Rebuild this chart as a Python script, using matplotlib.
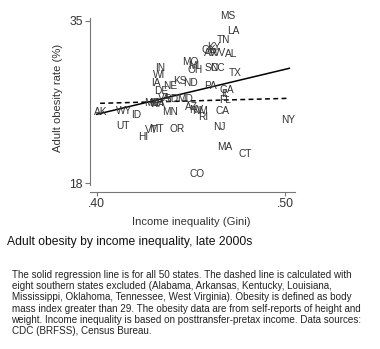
import matplotlib
matplotlib.use("Agg")
import matplotlib.pyplot as plt
import numpy as np

plt.rcParams['font.family'] = ['Liberation Sans', 'DejaVu Sans']

states = ["MS", "LA", "TN", "KY", "OK", "AR", "WV", "AL", "MO", "MI", "OH", "SC", "NC", "TX",
          "IN", "WI", "IA", "KS", "ND", "NE", "PA", "DE", "GA", "IL", "FL", "MD", "VA", "SD",
          "ME", "NH", "WA", "AK", "WY", "ID", "MN", "AZ", "NV", "NM", "RI", "CA", "UT", "HI",
          "VT", "MT", "OR", "NJ", "NY", "MA", "CT", "CO"]
gini = [0.4697, 0.4727, 0.4671, 0.4623, 0.4593, 0.4607, 0.4644, 0.4713, 0.4495, 0.4517,
        0.4522, 0.4612, 0.4639, 0.4734, 0.4336, 0.4332, 0.4315, 0.4440, 0.4499, 0.4389,
        0.4602, 0.4340, 0.4689, 0.4684, 0.4684, 0.4469, 0.4357, 0.4400, 0.4294, 0.4315,
        0.4326, 0.4021, 0.4147, 0.4209, 0.4389, 0.4505, 0.4527, 0.4549, 0.4566, 0.4669,
        0.4141, 0.4247, 0.4288, 0.4315, 0.4428, 0.4651, 0.5018, 0.4681, 0.4788, 0.4531]
obesity = [35.49, 33.87, 32.93, 32.25, 31.94, 31.57, 31.57, 31.52, 30.63, 30.26,
           29.84, 30.05, 30.05, 29.53, 30.05, 29.32, 28.51, 28.74, 28.45, 28.17,
           28.17, 27.68, 27.80, 27.38, 26.71, 26.81, 26.91, 26.76, 26.34, 26.39,
           26.29, 25.42, 25.55, 25.14, 25.48, 26.00, 25.66, 25.55, 24.96, 25.55,
           24.02, 22.87, 23.57, 23.67, 23.67, 23.91, 24.61, 21.82, 21.03, 19.00]

solid_x = [0.400, 0.5023]
solid_y = [25.21, 30.02]
dash_x = [0.4018, 0.5018]
dash_y = [26.36, 26.88]

xticks = [0.40, 0.50]
xtick_labels = [".40", ".50"]
yticks = [18, 35]
ytick_labels = ["18", "35"]

title = "Adult obesity by income inequality, late 2000s"
caption = ("The solid regression line is for all 50 states. The dashed line is calculated with\n"
           "eight southern states excluded (Alabama, Arkansas, Kentucky, Louisiana,\n"
           "Mississippi, Oklahoma, Tennessee, West Virginia). Obesity is defined as body\n"
           "mass index greater than 29. The obesity data are from self-reports of height and\n"
           "weight. Income inequality is based on posttransfer-pretax income. Data sources:\n"
           "CDC (BRFSS), Census Bureau.")

W, H = 380, 349
fig = plt.figure(figsize=(W / 100, H / 100), dpi=100)
ax = fig.add_axes([90 / W, 1 - 191.7 / H, 205 / W, (191.7 - 17.5) / H])

ax.set_xlim(0.39644, 0.50531)
ax.set_ylim(17.12, 35.33)

txtc = '#333333'
for s, x, y in zip(states, gini, obesity):
    ax.text(x, y, s, ha='center', va='center', fontsize=7.3, color=txtc)

ax.plot(solid_x, solid_y, color='black', lw=1.1)
ax.plot(dash_x, dash_y, color='black', lw=1.1, dashes=(3.2, 2.2))

for sp in ['top', 'right']:
    ax.spines[sp].set_visible(False)
spc = '#777777'
ax.spines['left'].set_color(spc)
ax.spines['bottom'].set_color(spc)
ax.spines['left'].set_linewidth(0.8)
ax.spines['bottom'].set_linewidth(0.8)
ax.spines['left'].set_bounds(17.85, 35.33)

ax.set_xticks(xticks)
ax.set_xticklabels(xtick_labels)
ax.set_yticks(yticks)
ax.set_yticklabels(ytick_labels)
ax.tick_params(axis='y', length=3.6, width=0.8, color=spc, pad=1.7, labelsize=8.8, labelcolor=txtc)
ax.tick_params(axis='x', length=2.9, width=0.8, color=spc, pad=1.5, labelsize=8.8, labelcolor=txtc)

ax.set_ylabel("Adult obesity rate (%)", fontsize=8.1, color=txtc, va='center', ha='center')
ax.yaxis.set_label_coords(-0.156, 0.538)
ax.set_xlabel("Income inequality (Gini)", fontsize=8.1, color=txtc, va='center', ha='center')
ax.xaxis.set_label_coords(0.496, -0.172)

fig.text(7 / W, 1 - 242 / H, title, fontsize=8.7, color='#111111', ha='left', va='center')
fig.text(11.5 / W, 1 - 269.5 / H, caption, fontsize=7.1, color='#222222', ha='left', va='top',
         linespacing=1.17)

fig.savefig("out.png", dpi=100)
